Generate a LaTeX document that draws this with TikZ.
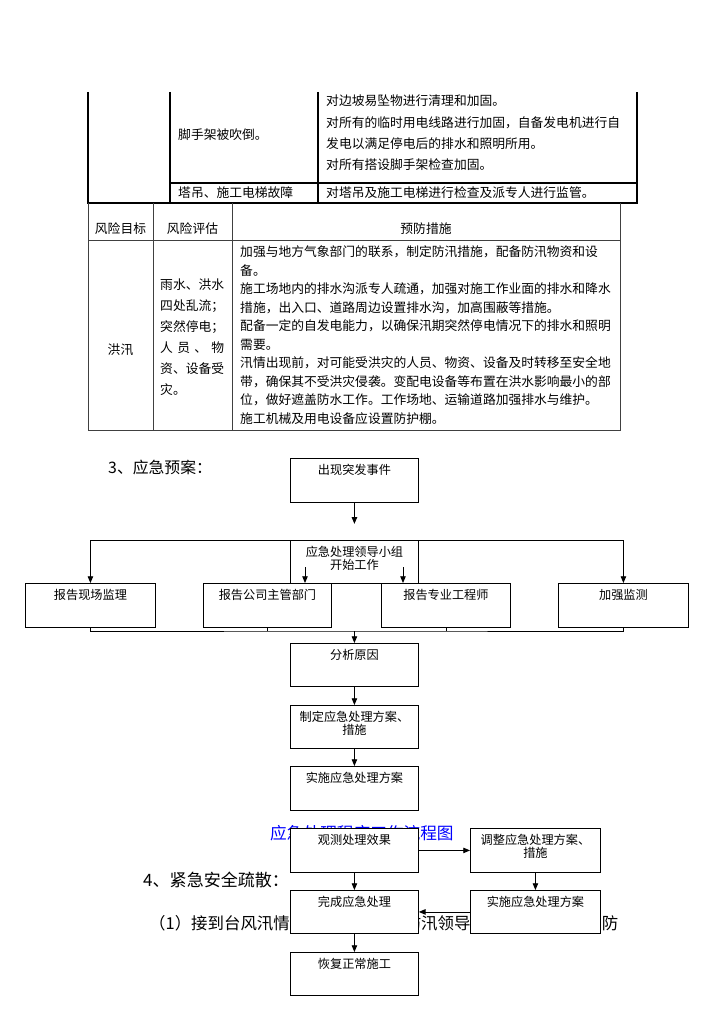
\documentclass[tikz,border=0pt]{standalone}
\usepackage{fontspec}
\setmainfont{Noto Sans CJK SC}
\usetikzlibrary{arrows.meta}

\newlength\px
\setlength\px{0.8218pt}
% box text sits near the top of the box
\newcommand\boxlabel[3]{\parbox[c][#2\px][t]{#1\px}{\centering\rule{0pt}{16.5\px}#3}}

\begin{document}
\begin{tikzpicture}[x=0.8218pt,y=-0.8218pt,
		tline/.style={line width=1.1pt},
		gline/.style={line width=0.5pt,black!75},
		cell/.style={anchor=west,inner sep=0pt,font=\fontsize{10.5pt}{12pt}\selectfont},
		fbox/.style={draw,line width=0.7pt,fill=white,inner sep=0pt,anchor=north west,font=\fontsize{10pt}{10.3pt}\selectfont},
		arr/.style={line width=0.7pt,-{Triangle[length=5.5pt,width=4.5pt]}},
		conn/.style={line width=0.7pt},
		head/.style={anchor=west,inner sep=0pt,font=\fontsize{13.7pt}{15pt}\selectfont}]
		\useasboundingbox (0,0) rectangle (724,1024);
		%\draw[help lines] (0,0) grid[step=50] (724,1024);
		% upper table
		\draw[tline] (88,92) -- (88,203) -- (637,203) -- (637,92);
		\draw[tline] (170,92) -- (170,203);
		\draw[tline] (318,92) -- (318,203);
		\draw[tline] (170,183) -- (637,183);
		\node[cell] (scaf) at (178,135) {脚手架被吹倒。};
		\node[cell] (crane) at (178,193) {塔吊、施工电梯故障};
		\foreach \t [count=\i from 0] in {对边坡易坠物进行清理和加固。,对所有的临时用电线路进行加固，自备发电机进行自,发电以满足停电后的排水和照明所用。,对所有搭设脚手架检查加固。} {
			\node[cell] (u\i) at (326,{101+21.3*\i}) {\t};
		}
		\node[cell] (cranefix) at (326,193) {对塔吊及施工电梯进行检查及派专人进行监管。};
		% lower table
		\draw[gline] (88,203) -- (88,430) -- (620,430) -- (620,203);
		\draw[gline] (153,203) -- (153,430);
		\draw[gline] (232,203) -- (232,430);
		\draw[gline] (88,240) -- (620,240);
		\node[cell,anchor=center] (h1) at (120.5,229) {风险目标};
		\node[cell,anchor=center] (h2) at (192.5,229) {风险评估};
		\node[cell,anchor=center] (h3) at (426,229) {预防措施};
		\node[cell,anchor=center] (flood) at (120.5,350) {洪汛};
		\foreach \t [count=\i from 0] in {雨水、洪水,四处乱流；,突然停电；,{\makebox[5em][s]{人\hfill 员\hfill 、\hfill 物}},资、设备受,灾。} {
			\node[cell] (r\i) at (160,{285+21*\i}) {\t};
		}
		\foreach \t [count=\i from 0] in {加强与地方气象部门的联系，制定防汛措施，配备防汛物资和设,备。,施工场地内的排水沟派专人疏通，加强对施工作业面的排水和降水,措施，出入口、道路周边设置排水沟，加高围蔽等措施。,配备一定的自发电能力，以确保汛期突然停电情况下的排水和照明,需要。,汛情出现前，对可能受洪灾的人员、物资、设备及时转移至安全地,带，确保其不受洪灾侵袭。变配电设备等布置在洪水影响最小的部,位，做好遮盖防水工作。工作场地、运输道路加强排水与维护。,施工机械及用电设备应设置防护棚。} {
			\node[cell] (m\i) at (240,{252+18.5*\i}) {\t};
		}
		% running text
		\node[head,font=\fontsize{13pt}{15pt}\selectfont] (sec3) at (108,467) {3、应急预案：};
		\node[head,blue] (cap) at (270,833) {应急处理程序工作流程图};
		\node[head,font=\fontsize{14pt}{15pt}\selectfont] (sec4) at (143,880) {4、紧急安全疏散：};
		\node[head,font=\fontsize{13.5pt}{15pt}\selectfont] (item1) at (149,923) {（1）接到台风汛情通知后，项目部防汛领导小组立即组织人员防};
		% flow chart
		\node[fbox] (start) at (290,458) {\boxlabel{128}{44}{出现突发事件}};
		\node[fbox] (lead) at (290,540) {\boxlabel{128}{43}{应急处理领导小组\\开始工作}};
		\node[fbox] (r1) at (25,583) {\boxlabel{130}{44}{报告现场监理}};
		\node[fbox] (r2) at (203,583) {\boxlabel{128}{44}{报告公司主管部门}};
		\node[fbox] (r3) at (381,583) {\boxlabel{129}{44}{报告专业工程师}};
		\node[fbox] (r4) at (558,583) {\boxlabel{130}{44}{加强监测}};
		\node[fbox] (cause) at (290,643) {\boxlabel{128}{43}{分析原因}};
		\node[fbox] (plan) at (290,705) {\boxlabel{128}{43}{制定应急处理方案、\\措施}};
		\node[fbox] (exec) at (290,766) {\boxlabel{128}{44}{实施应急处理方案}};
		\node[fbox] (watch) at (290,828) {\boxlabel{128}{44}{观测处理效果}};
		\node[fbox] (adjust) at (470,828) {\boxlabel{130}{44}{调整应急处理方案、\\措施}};
		\node[fbox] (finish) at (290,890) {\boxlabel{128}{43}{完成应急处理}};
		\node[fbox] (exec2) at (470,890) {\boxlabel{130}{43}{实施应急处理方案}};
		\node[fbox] (resume) at (290,952) {\boxlabel{128}{43}{恢复正常施工}};
		\path (start.south) ++(0,21) coordinate (tip);
		\path (cause.north) ++(0,-12) coordinate (bus);
		\coordinate (la) at (305,567);
		\coordinate (lb) at (403,567);
		\draw[arr] (start.south) -- (tip);
		\draw[arr] (lead.north west) -| (r1.north);
		\draw[arr] (lead.north east) -| (r4.north);
		\draw[arr] (la) -- (la |- r2.north);
		\draw[arr] (lb) -- (lb |- r3.north);
		\draw[conn] (r1.south) |- (bus) -| (r4.south);
		\draw[conn] (r2.south) -- (r2.south |- bus);
		\draw[conn] (r3.south) -- (r3.south |- bus);
		\draw[arr] (bus) -- (cause.north);
		\draw[arr] (cause.south) -- (plan.north);
		\draw[arr] (plan.south) -- (exec.north);
		\draw[arr] (watch.east) -- (adjust.west);
		\draw[arr] (adjust.south) -- (exec2.north);
		\draw[arr] (watch.south) -- (finish.north);
		\draw[arr] (exec2.west) -- (finish.east);
		\draw[arr] (finish.south) -- (resume.north);
\end{tikzpicture}
\end{document}
